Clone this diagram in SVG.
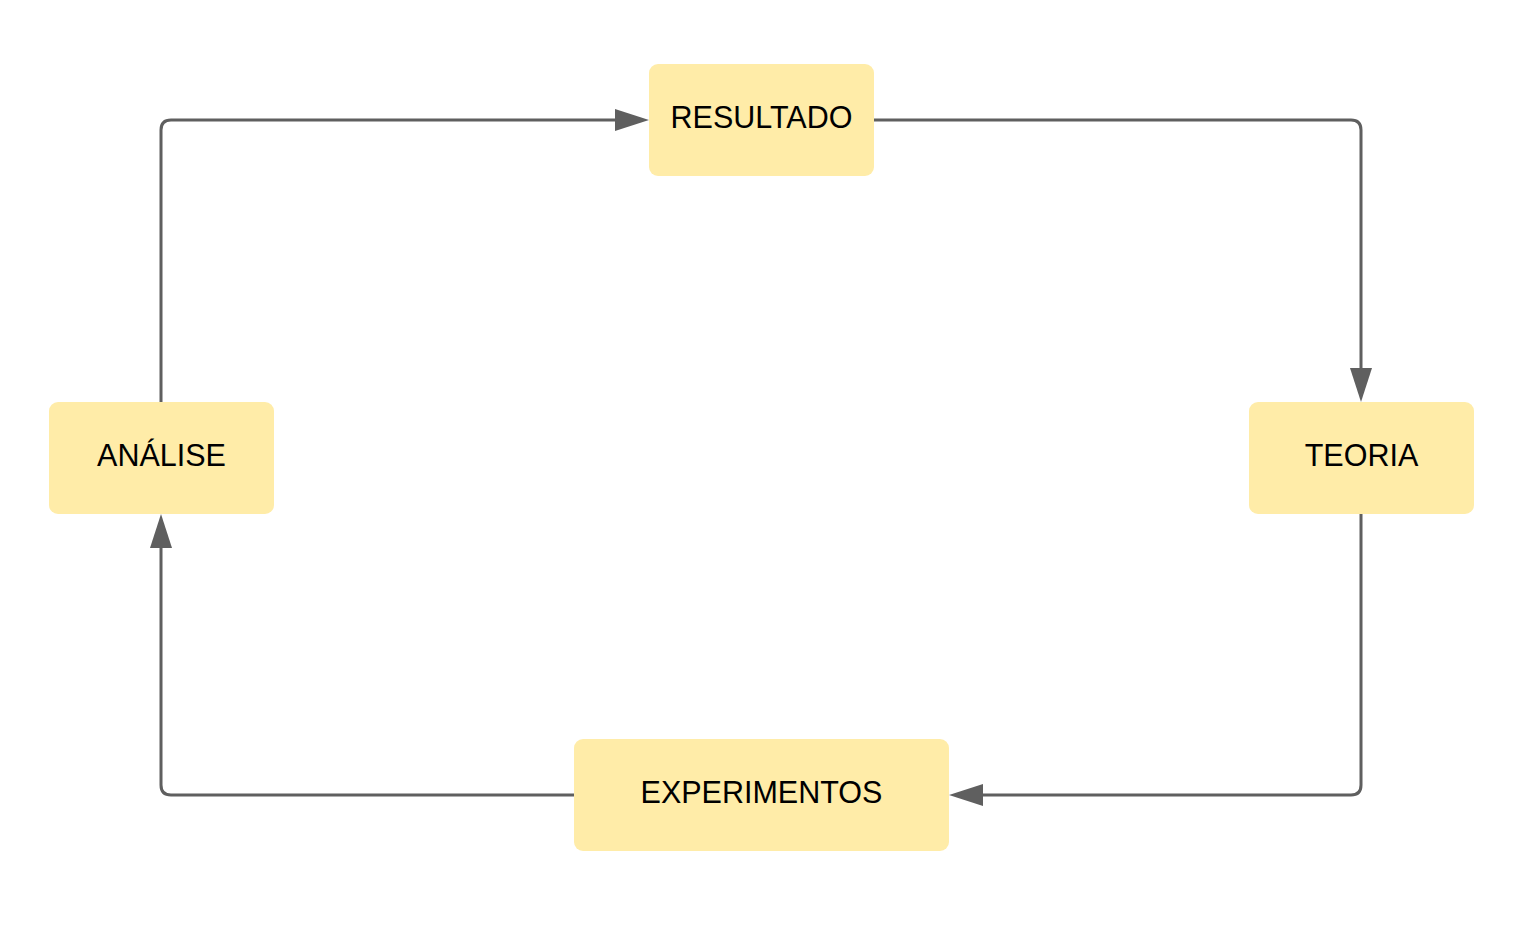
<svg xmlns="http://www.w3.org/2000/svg" width="1534" height="934" viewBox="0 0 1534 934">
<style>
.node rect{fill:#ffeca8;}
.node text{font-family:"Liberation Sans",Arial,sans-serif;font-size:30.5px;fill:#000;text-anchor:middle;}
.edge{fill:none;stroke:#5f5f5f;stroke-width:3;}
</style>
<defs>
<marker id="arr" markerUnits="userSpaceOnUse" markerWidth="36" markerHeight="24" refX="0" refY="12" orient="auto" viewBox="0 0 36 24">
<path d="M0,1 L34,12 L0,23 Z" fill="#5f5f5f"/>
</marker>
</defs>
<rect width="1534" height="934" fill="#fff"/>
<g id="connectors">
<path class="edge" d="M161,402 L161,130 Q161,120 171,120 L615,120" marker-end="url(#arr)"/>
<path class="edge" d="M874,120 L1351,120 Q1361,120 1361,130 L1361,368" marker-end="url(#arr)"/>
<path class="edge" d="M1361,514 L1361,785 Q1361,795 1351,795 L983,795" marker-end="url(#arr)"/>
<path class="edge" d="M574,795 L171,795 Q161,795 161,785 L161,548" marker-end="url(#arr)"/>
</g>
<g id="resultado" class="node"><rect x="649" y="64" width="225" height="112" rx="9"/><text x="761.5" y="128">RESULTADO</text></g>
<g id="analise" class="node"><rect x="49" y="402" width="225" height="112" rx="9"/><text x="161.5" y="466">ANÁLISE</text></g>
<g id="teoria" class="node"><rect x="1249" y="402" width="225" height="112" rx="9"/><text x="1361.5" y="466">TEORIA</text></g>
<g id="experimentos" class="node"><rect x="574" y="739" width="375" height="112" rx="9"/><text x="761.5" y="803">EXPERIMENTOS</text></g>
</svg>
